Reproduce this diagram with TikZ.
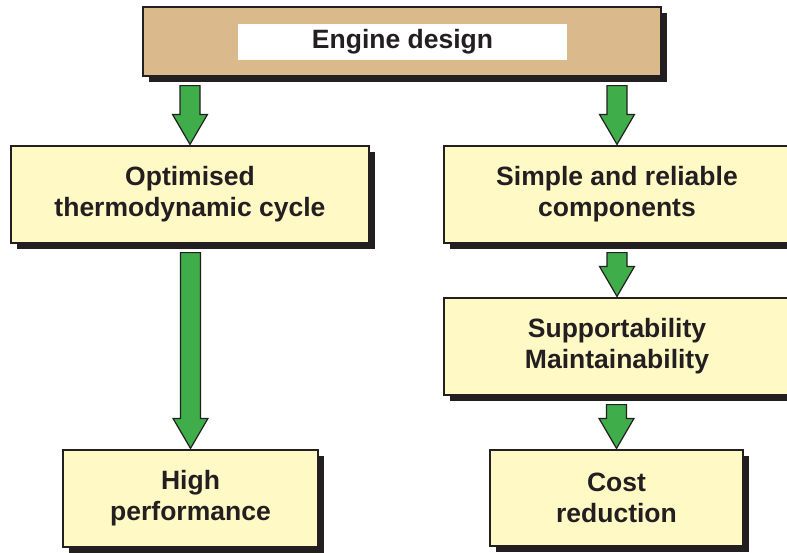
\documentclass[tikz,border=0pt]{standalone}
\usepackage{fontspec}
\setmainfont{Liberation Sans}
\usetikzlibrary{calc,shadows}

\definecolor{boxyellow}{RGB}{255,249,198}
\definecolor{boxtan}{RGB}{218,186,141}
\definecolor{arrowgreen}{RGB}{62,173,74}
\definecolor{inkgray}{RGB}{35,31,32}

\tikzset{
  box/.style={draw=inkgray, line width=1.2pt, fill=boxyellow, text=inkgray,
    align=center, inner sep=0pt, minimum height=97pt,
    font=\bfseries\fontsize{26.5}{31}\selectfont,
    drop shadow={shadow xshift=6pt, shadow yshift=-6pt, fill=inkgray, opacity=1}},
  topbox/.style={box, fill=boxtan},
  titlebox/.style={fill=white, text=inkgray, inner sep=0pt,
    font=\bfseries\fontsize{26.5}{31}\selectfont},
  fatarrow/.style={draw=inkgray, line width=1.2pt, fill=arrowgreen, line join=miter}
}

% fat green arrow from under box #1 down onto the top of box #2
\newcommand{\blockarrow}[2]{%
  \draw[fatarrow] let \p1=(#1.south), \p2=(#2.north) in
    (\x2-10pt,\y1-9pt) -- (\x2+10pt,\y1-9pt) -- (\x2+10pt,\y2+31pt)
    -- (\x2+17.5pt,\y2+31pt) -- (\x2,\y2+1pt) -- (\x2-17.5pt,\y2+31pt)
    -- (\x2-10pt,\y2+31pt) -- cycle;}

\begin{document}
\begin{tikzpicture}[x=1pt,y=-1pt]
\useasboundingbox (0,0) rectangle (787,552);

\node[topbox, minimum width=518pt, minimum height=69pt] (design) at (402,41.5) {};
\node[titlebox, minimum width=329pt, minimum height=36pt] (title) at (402.5,42) {Engine design};

\node[box, minimum width=358pt] (cycle) at (190,194.5) {Optimised\\thermodynamic cycle};
\node[box, minimum width=346pt] (simple) at (617,194.5) {Simple and reliable\\components};
\node[box, minimum width=346pt] (support) at (617,346.5) {Supportability\\Maintainability};
\node[box, minimum width=255pt] (perf) at (190.5,498.5) {High\\performance};
\node[box, minimum width=253pt, minimum height=96pt] (cost) at (616.5,498) {Cost\\reduction};

\blockarrow{design}{cycle}
\blockarrow{design}{simple}
\blockarrow{cycle}{perf}
\blockarrow{simple}{support}
\blockarrow{support}{cost}
\end{tikzpicture}
\end{document}
